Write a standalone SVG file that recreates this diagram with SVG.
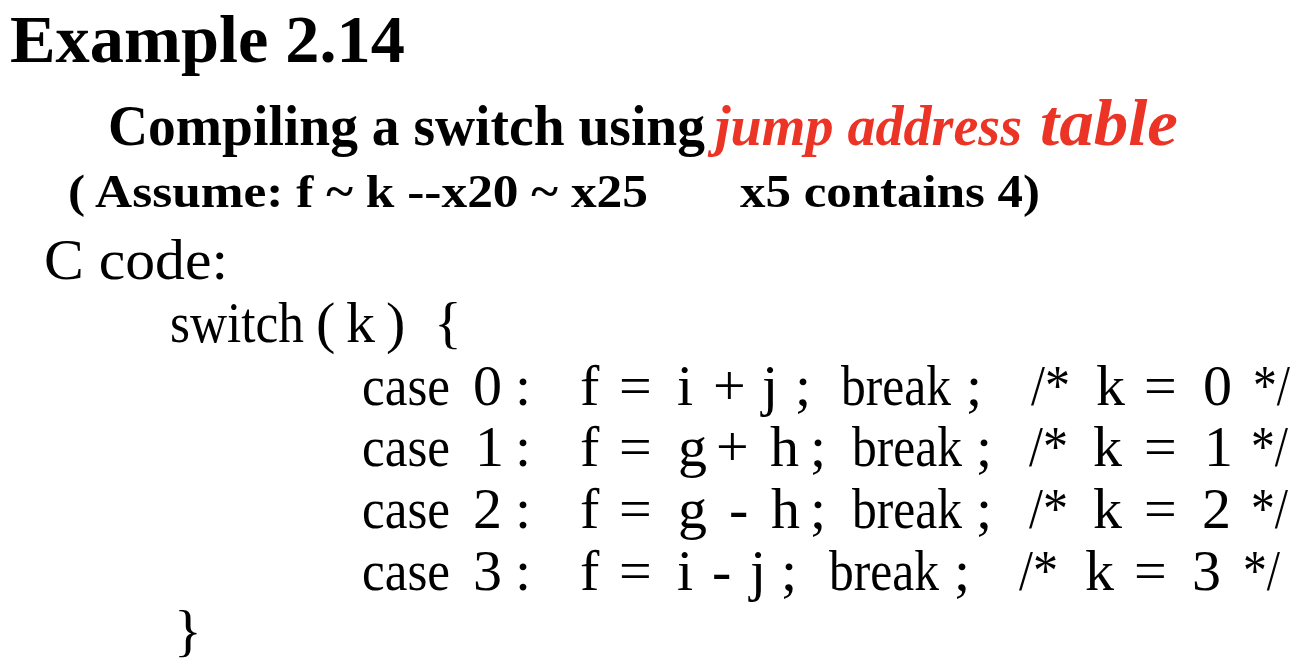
<svg xmlns="http://www.w3.org/2000/svg" width="1308" height="672" viewBox="0 0 1308 672">
<style>
text{font-family:"Liberation Serif","Times New Roman",serif;fill:#000;white-space:pre}
.b{font-weight:bold}
.red{fill:#EB3326;font-style:italic;font-weight:bold}
.c{font-size:58px}
</style>
<rect width="1308" height="672" fill="#fff"/>
<g id="title">
<text class="b" x="10" y="62" font-size="68" textLength="395" lengthAdjust="spacingAndGlyphs">Example 2.14</text>
</g>
<g id="subtitle">
<text class="b" x="108" y="145" font-size="58" textLength="597" lengthAdjust="spacingAndGlyphs">Compiling a switch using</text>
<text class="red" x="715" y="145" font-size="56" textLength="307" lengthAdjust="spacingAndGlyphs">jump address</text>
<text class="red" x="1040" y="145" font-size="66" textLength="138" lengthAdjust="spacingAndGlyphs">table</text>
</g>
<g id="assume">
<text class="b" x="68" y="207" font-size="46" textLength="580" lengthAdjust="spacingAndGlyphs">( Assume: f ~ k --x20 ~ x25</text>
<text class="b" x="740" y="207" font-size="46" textLength="300" lengthAdjust="spacingAndGlyphs">x5 contains 4)</text>
</g>
<g id="ccode">
<text x="44" y="279" font-size="58" textLength="184" lengthAdjust="spacingAndGlyphs">C code:</text>
<text class="c" x="170" y="342" textLength="134" lengthAdjust="spacingAndGlyphs">switch</text>
<text class="c" x="316" y="342">(</text>
<text class="c" x="346" y="342">k</text>
<text class="c" x="386" y="342">)</text>
<text class="c" x="434" y="342">{</text>
</g>
<g id="case0">
<text class="c" x="362" y="405" textLength="88" lengthAdjust="spacingAndGlyphs">case</text>
<text class="c" x="473" y="405">0</text>
<text class="c" x="515" y="405">:</text>
<text class="c" x="580" y="405">f</text>
<text class="c" x="619" y="405">=</text>
<text class="c" x="677" y="405">i</text>
<text class="c" x="713" y="405">+</text>
<text class="c" x="762" y="405">j</text>
<text class="c" x="795" y="405">;</text>
<text class="c" x="841" y="405" textLength="110" lengthAdjust="spacingAndGlyphs">break</text>
<text class="c" x="966" y="405">;</text>
<text class="c" x="1031" y="405" textLength="39" lengthAdjust="spacingAndGlyphs">/*</text>
<text class="c" x="1096" y="405">k</text>
<text class="c" x="1144" y="405">=</text>
<text class="c" x="1203" y="405">0</text>
<text class="c" x="1253" y="405" textLength="37" lengthAdjust="spacingAndGlyphs">*/</text>
</g>
<g id="case1">
<text class="c" x="362" y="466" textLength="88" lengthAdjust="spacingAndGlyphs">case</text>
<text class="c" x="475" y="466">1</text>
<text class="c" x="515" y="466">:</text>
<text class="c" x="580" y="466">f</text>
<text class="c" x="619" y="466">=</text>
<text class="c" x="678" y="466">g</text>
<text class="c" x="716" y="466">+</text>
<text class="c" x="770" y="466">h</text>
<text class="c" x="810" y="466">;</text>
<text class="c" x="852" y="466" textLength="110" lengthAdjust="spacingAndGlyphs">break</text>
<text class="c" x="976" y="466">;</text>
<text class="c" x="1029" y="466" textLength="39" lengthAdjust="spacingAndGlyphs">/*</text>
<text class="c" x="1093" y="466">k</text>
<text class="c" x="1144" y="466">=</text>
<text class="c" x="1204" y="466">1</text>
<text class="c" x="1251" y="466" textLength="37" lengthAdjust="spacingAndGlyphs">*/</text>
</g>
<g id="case2">
<text class="c" x="362" y="528" textLength="88" lengthAdjust="spacingAndGlyphs">case</text>
<text class="c" x="473" y="528">2</text>
<text class="c" x="515" y="528">:</text>
<text class="c" x="580" y="528">f</text>
<text class="c" x="619" y="528">=</text>
<text class="c" x="678" y="528">g</text>
<text class="c" x="729" y="528">-</text>
<text class="c" x="771" y="528">h</text>
<text class="c" x="810" y="528">;</text>
<text class="c" x="852" y="528" textLength="110" lengthAdjust="spacingAndGlyphs">break</text>
<text class="c" x="976" y="528">;</text>
<text class="c" x="1029" y="528" textLength="39" lengthAdjust="spacingAndGlyphs">/*</text>
<text class="c" x="1093" y="528">k</text>
<text class="c" x="1144" y="528">=</text>
<text class="c" x="1202" y="528">2</text>
<text class="c" x="1251" y="528" textLength="37" lengthAdjust="spacingAndGlyphs">*/</text>
</g>
<g id="case3">
<text class="c" x="362" y="590" textLength="88" lengthAdjust="spacingAndGlyphs">case</text>
<text class="c" x="473" y="590">3</text>
<text class="c" x="515" y="590">:</text>
<text class="c" x="580" y="590">f</text>
<text class="c" x="619" y="590">=</text>
<text class="c" x="677" y="590">i</text>
<text class="c" x="712" y="590">-</text>
<text class="c" x="750" y="590">j</text>
<text class="c" x="781" y="590">;</text>
<text class="c" x="829" y="590" textLength="110" lengthAdjust="spacingAndGlyphs">break</text>
<text class="c" x="954" y="590">;</text>
<text class="c" x="1019" y="590" textLength="39" lengthAdjust="spacingAndGlyphs">/*</text>
<text class="c" x="1085" y="590">k</text>
<text class="c" x="1134" y="590">=</text>
<text class="c" x="1192" y="590">3</text>
<text class="c" x="1243" y="590" textLength="37" lengthAdjust="spacingAndGlyphs">*/</text>
</g>
<g id="close">
<text class="c" x="174" y="650">}</text>
</g>
</svg>
